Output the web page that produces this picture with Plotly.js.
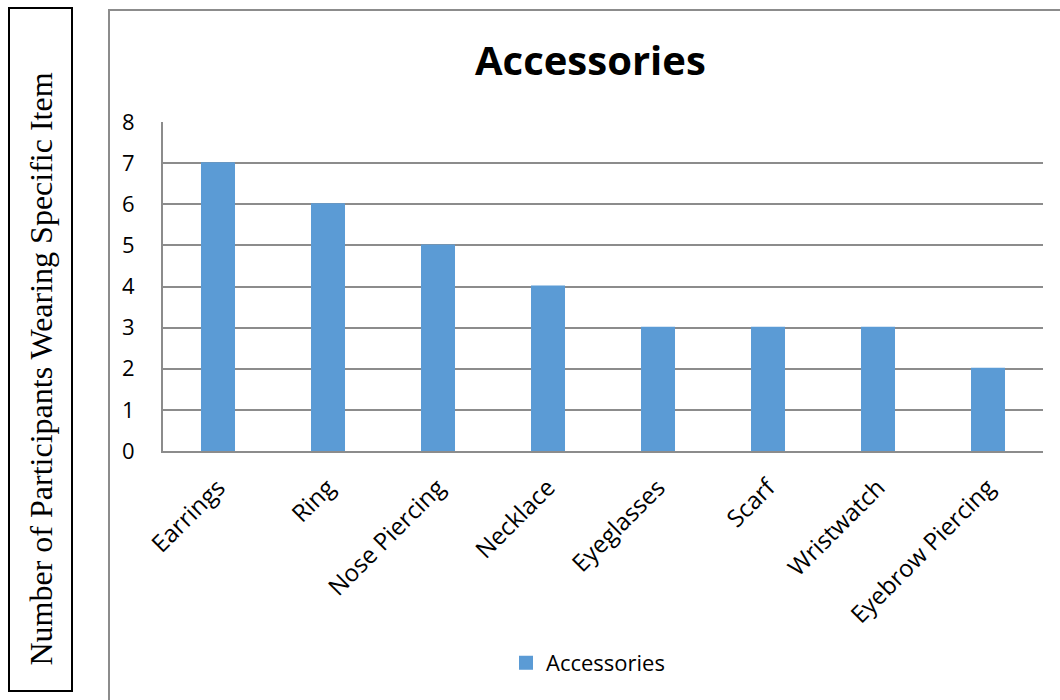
<!DOCTYPE html>
<html>
<head>
<meta charset="utf-8">
<script src="https://cdn.plot.ly/plotly-3.0.1.min.js"></script>
<style>html,body{margin:0;padding:0;background:#fff;}#chart{width:1060px;height:700px;}</style>
</head>
<body>
<div id="chart"></div>
<script>
const categories = ["Earrings", "Ring", "Nose Piercing", "Necklace", "Eyeglasses", "Scarf", "Wristwatch", "Eyebrow Piercing"];
const values = [7, 6, 5, 4, 3, 3, 3, 2];
const seriesName = "Accessories";
const chartTitle = "Accessories";
const yAxisTitle = "Number of Participants Wearing Specific Item";
const yTicks = [0, 1, 2, 3, 4, 5, 6, 7, 8];

const W = 1060, H = 700;
const L = 163, R = 1043, T = 122, B = 451;
const px = x => (x - L) / (R - L);
const py = y => (B - y) / (B - T);

const trace = {
  type: 'bar',
  x: categories,
  y: values,
  name: seriesName,
  marker: {color: '#5B9BD5', line: {color: '#5B9BD5', width: 2}},
  showlegend: true,
  hoverinfo: 'x+y'
};

const layout = {
  width: W, height: H,
  margin: {l: L, r: W - R, t: T, b: H - B, pad: 0},
  paper_bgcolor: '#ffffff',
  plot_bgcolor: '#ffffff',
  bargap: 0.709,
  showlegend: true,
  font: {family: '"Open Sans", sans-serif', color: '#000'},
  xaxis: {
    type: 'category',
    tickangle: -45,
    ticks: '',
    ticklabelstandoff: 11,
    showline: true, linecolor: '#8c8c8c', linewidth: 2,
    showgrid: false,
    tickfont: {size: 24, family: '"Open Sans", sans-serif', color: '#000'},
    fixedrange: true
  },
  yaxis: {
    range: [0, 8],
    tickvals: yTicks,
    ticktext: yTicks.map(String),
    ticks: '',
    ticklabelstandoff: 22,
    showline: true, linecolor: '#8c8c8c', linewidth: 2,
    showgrid: true, gridcolor: '#8c8c8c', gridwidth: 2,
    zeroline: false,
    tickfont: {size: 22, family: '"Open Sans", sans-serif', color: '#000'},
    fixedrange: true
  },
  legend: {
    orientation: 'h',
    x: px(506), xanchor: 'left',
    y: py(663), yanchor: 'middle',
    font: {size: 22, family: '"Open Sans", sans-serif', color: '#000'},
    bgcolor: 'rgba(0,0,0,0)'
  },
  shapes: [
    {type: 'rect', xref: 'paper', yref: 'paper',
     x0: px(9), x1: px(72), y0: py(691), y1: py(8),
     line: {color: '#000', width: 2}, fillcolor: 'rgba(0,0,0,0)'},
    {type: 'rect', xref: 'paper', yref: 'paper',
     x0: px(109), x1: px(1080), y0: py(720), y1: py(10),
     line: {color: '#8c8c8c', width: 2}, fillcolor: 'rgba(0,0,0,0)'}
  ],
  annotations: [
    {text: chartTitle, xref: 'paper', yref: 'paper', x: px(590), y: py(60),
     xanchor: 'center', yanchor: 'middle', showarrow: false,
     font: {size: 40, family: '"Open Sans", sans-serif', weight: 'bold', color: '#000'}},
    {text: yAxisTitle, xref: 'paper', yref: 'paper', x: px(40.5), y: py(369),
     xanchor: 'center', yanchor: 'middle', showarrow: false, textangle: -90,
     font: {size: 32, family: '"Liberation Serif", "Times New Roman", serif', color: '#000'}}
  ]
};

Plotly.newPlot('chart', [trace], layout, {displayModeBar: false, staticPlot: true});
</script>
</body>
</html>
